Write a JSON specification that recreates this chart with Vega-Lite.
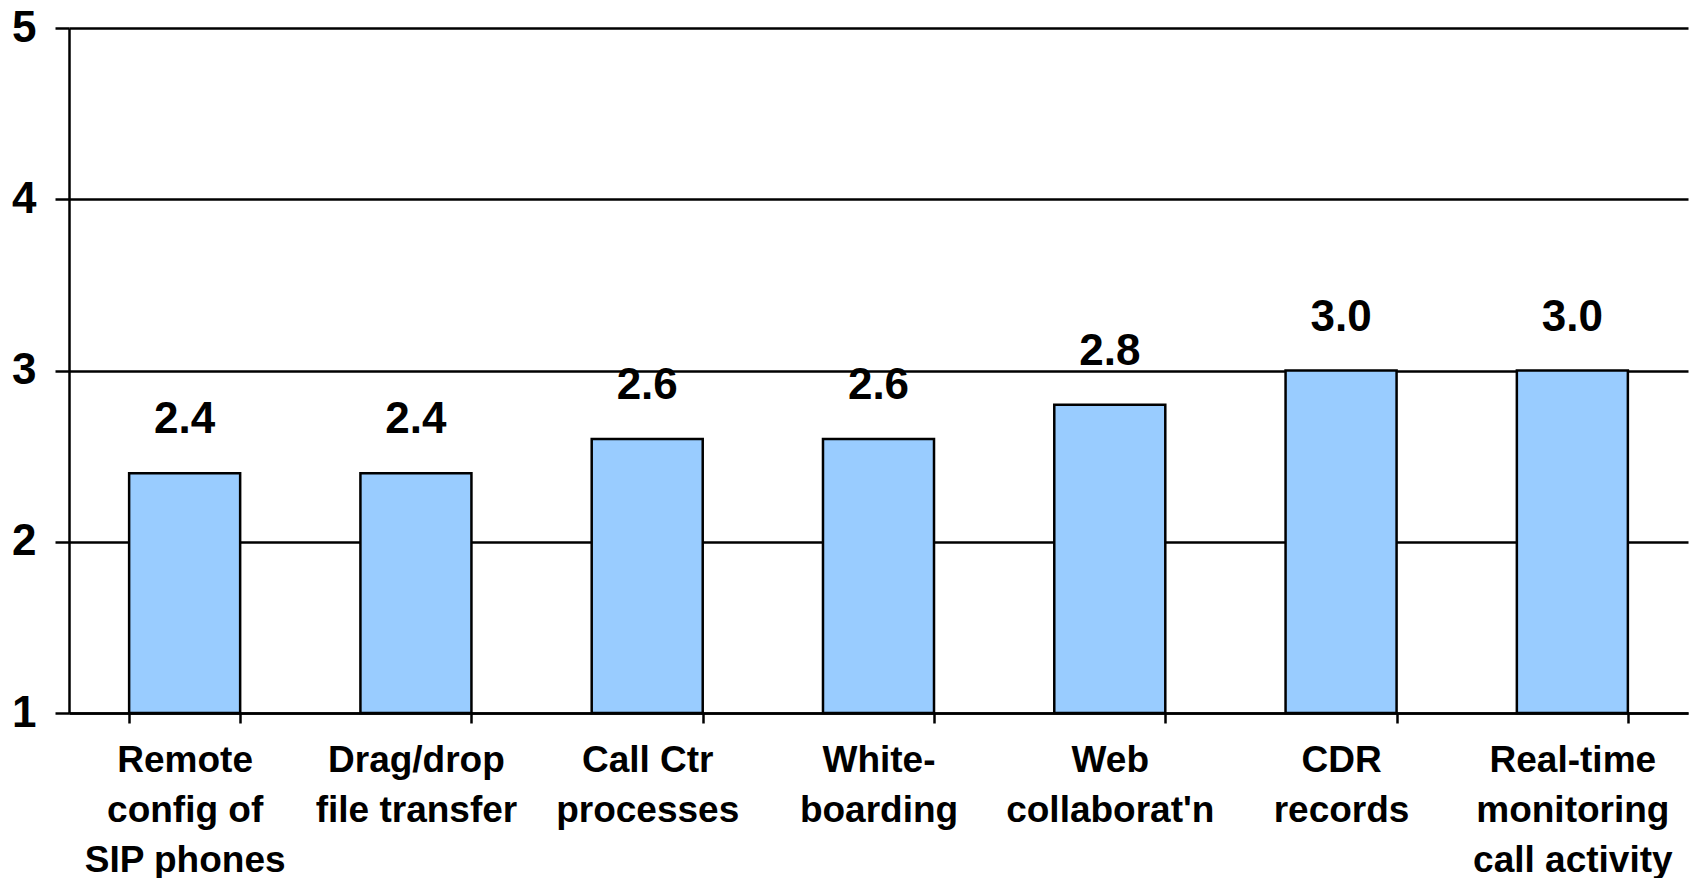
{
  "$schema": "https://vega.github.io/schema/vega-lite/v6.json",
  "autosize": "none",
  "width": 1619,
  "height": 685,
  "padding": {"left": 69, "top": 28, "right": 6, "bottom": 165},
  "background": "white",
  "config": {
    "view": {"stroke": null},
    "font": "Liberation Sans"
  },
  "data": {
    "values": [
      {"feature": "Remote\nconfig of\nSIP phones", "score": 2.4},
      {"feature": "Drag/drop\nfile transfer", "score": 2.4},
      {"feature": "Call Ctr\nprocesses", "score": 2.6},
      {"feature": "White-\nboarding", "score": 2.6},
      {"feature": "Web\ncollaborat'n", "score": 2.8},
      {"feature": "CDR\nrecords", "score": 3.0},
      {"feature": "Real-time\nmonitoring\ncall activity", "score": 3.0}
    ]
  },
  "encoding": {
    "x": {
      "field": "feature",
      "type": "nominal",
      "sort": null,
      "scale": {"paddingInner": 0.52, "paddingOuter": 0.26},
      "axis": {
        "title": null,
        "labelAngle": 0,
        "labelExpr": "split(datum.label, '\\n')",
        "labelFont": "Liberation Sans",
        "labelFontWeight": "bold",
        "labelFontSize": 37,
        "labelColor": "black",
        "labelLineHeight": 50,
        "labelBaseline": "top",
        "labelPadding": 19,
        "labelLimit": 400,
        "tickBand": "extent",
        "tickSize": 10,
        "tickColor": "black",
        "tickWidth": 2.5,
        "domainColor": "black",
        "domainWidth": 2.5,
        "grid": false
      }
    },
    "y": {
      "field": "score",
      "type": "quantitative",
      "scale": {"domain": [1, 5], "zero": false, "nice": false},
      "axis": {
        "title": null,
        "values": [1, 2, 3, 4, 5],
        "labelFont": "Liberation Sans",
        "labelFontWeight": "bold",
        "labelFontSize": 44,
        "labelColor": "black",
        "labelPadding": 19,
        "tickSize": 14,
        "tickColor": "black",
        "tickWidth": 2.5,
        "domainColor": "black",
        "domainWidth": 2.5,
        "grid": true,
        "gridColor": "black",
        "gridWidth": 2.5,
        "gridOpacity": 1
      }
    }
  },
  "layer": [
    {
      "mark": {"type": "bar", "fill": "#99CCFF", "stroke": "black", "strokeWidth": 2.5},
      "encoding": {"y2": {"datum": 1}}
    },
    {
      "mark": {
        "type": "text",
        "font": "Liberation Sans",
        "fontWeight": "bold",
        "fontSize": 44,
        "color": "black",
        "baseline": "alphabetic",
        "dy": -40
      },
      "encoding": {"text": {"field": "score", "type": "quantitative", "format": ".1f"}}
    }
  ]
}
